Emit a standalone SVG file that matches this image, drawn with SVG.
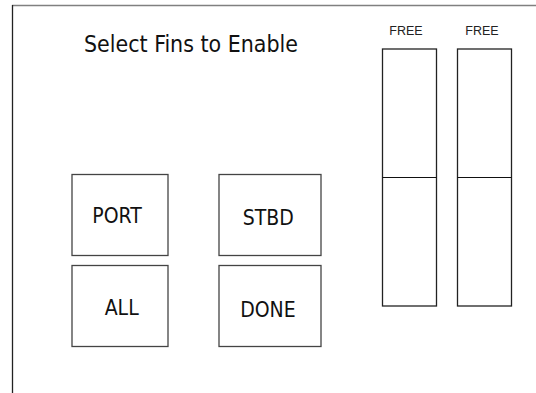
<svg xmlns="http://www.w3.org/2000/svg" width="536" height="393" viewBox="0 0 536 393">
  <style>
    .frame { fill: none; stroke-width: 1.3; }
    .btn rect { fill: #ffffff; stroke: #444444; stroke-width: 1.3; }
    .btn text { font-family: "DejaVu Sans Condensed", "DejaVu Sans", sans-serif; font-stretch: condensed; font-size: 21px; fill: #111111; text-anchor: middle; }
    .title { font-family: "DejaVu Sans Condensed", "DejaVu Sans", sans-serif; font-stretch: condensed; font-size: 22.5px; fill: #111111; }
    .slider rect { fill: #ffffff; stroke: #222222; stroke-width: 1.3; }
    .slider line { stroke: #111111; stroke-width: 1.2; }
    .slider text { font-family: "Liberation Sans", Arial, sans-serif; font-size: 12.5px; fill: #222222; text-anchor: middle; }
  </style>

  <rect width="536" height="393" fill="#ffffff"/>

  <!-- panel frame: top and left edges -->
  <line class="frame" x1="12" y1="5.5" x2="536" y2="5.5" stroke="#808080"/>
  <line class="frame" x1="12.5" y1="5" x2="12.5" y2="393" stroke="#222222"/>

  <text class="title" x="84" y="51.5" textLength="214" lengthAdjust="spacingAndGlyphs">Select Fins to Enable</text>

  <g id="btn-port" class="btn">
    <rect x="72" y="174.5" width="96" height="81"/>
    <text x="117" y="222.5">PORT</text>
  </g>
  <g id="btn-stbd" class="btn">
    <rect x="219" y="174.5" width="102" height="81"/>
    <text x="268.3" y="225.2">STBD</text>
  </g>
  <g id="btn-all" class="btn">
    <rect x="72" y="265.5" width="96" height="81"/>
    <text x="121.7" y="314.7">ALL</text>
  </g>
  <g id="btn-done" class="btn">
    <rect x="219" y="265.5" width="102" height="81"/>
    <text x="267.9" y="317">DONE</text>
  </g>

  <g id="slider-port" class="slider">
    <text x="406" y="34.7">FREE</text>
    <rect x="382.5" y="49" width="54" height="257"/>
    <line x1="382.5" y1="177.5" x2="436.5" y2="177.5"/>
  </g>
  <g id="slider-stbd" class="slider">
    <text x="482" y="34.7">FREE</text>
    <rect x="457.5" y="49" width="54" height="257"/>
    <line x1="457.5" y1="177.5" x2="511.5" y2="177.5"/>
  </g>

  <g id="connectors"/>
</svg>
